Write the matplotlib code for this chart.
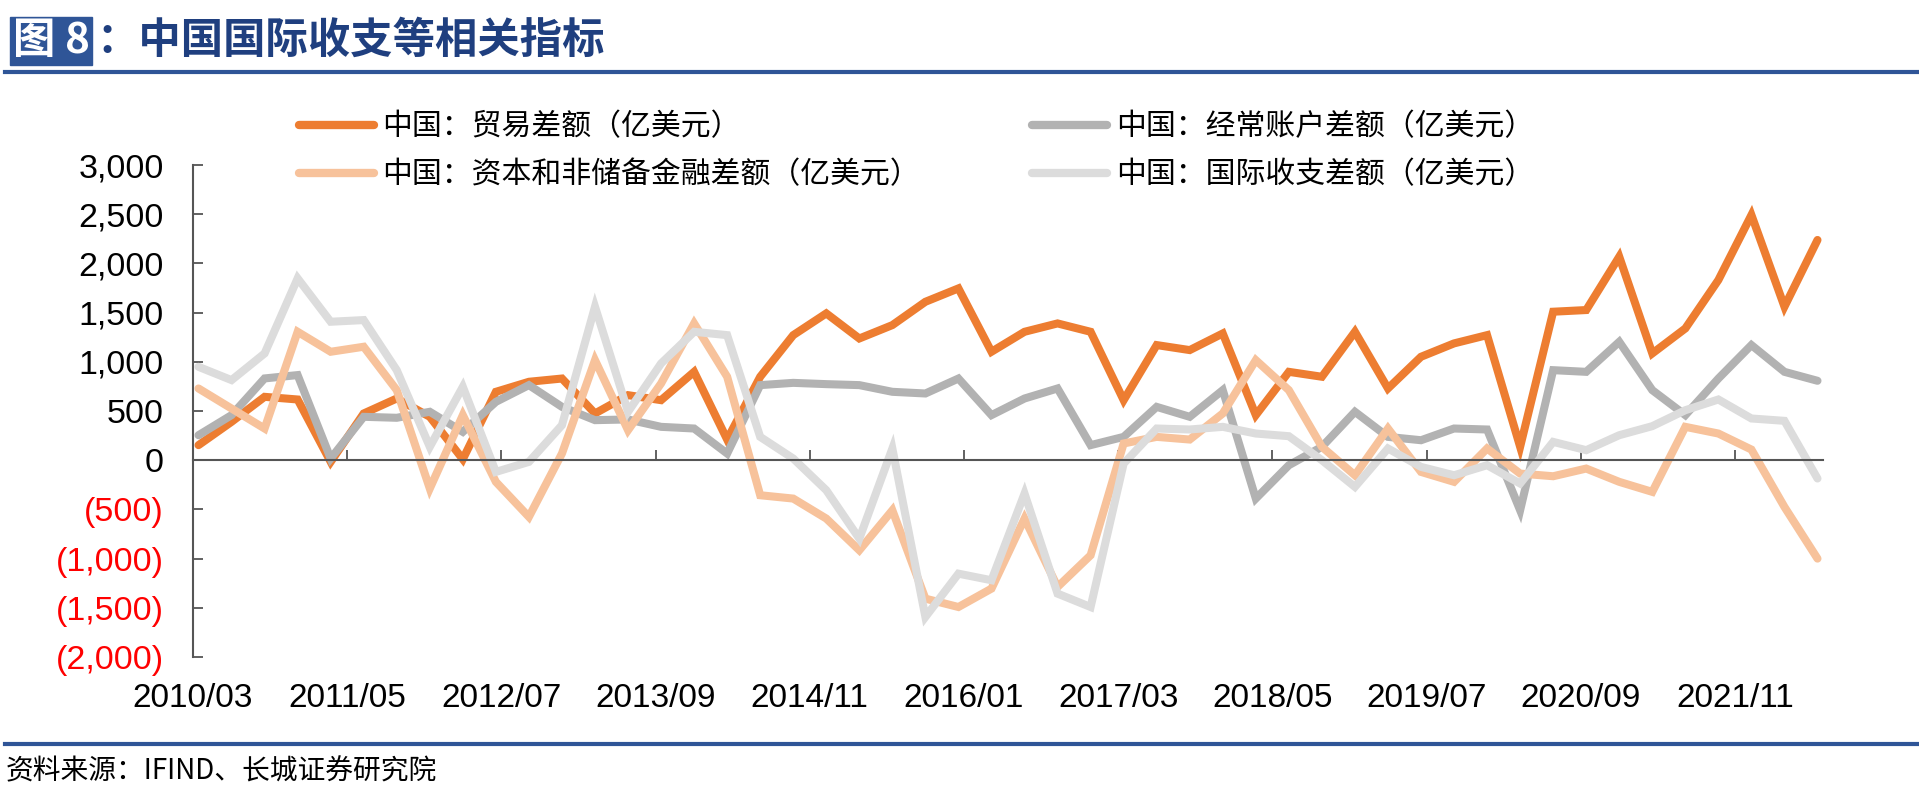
import matplotlib
matplotlib.use("Agg")
import matplotlib.pyplot as plt
from matplotlib.patches import Rectangle
from matplotlib.lines import Line2D

# quarterly data 2010Q1 - 2022Q2 (亿美元)
quarters = [f"{2010 + i // 4}Q{i % 4 + 1}" for i in range(50)]
trade = [153, 390, 644, 617, -17, 475, 627, 441, 10, 695,
         797, 830, 475, 661, 610, 898, 210, 848, 1271, 1492,
         1237, 1373, 1610, 1746, 1102, 1305, 1390, 1305, 610, 1170,
         1119, 1288, 458, 898, 848, 1305, 729, 1051, 1187, 1271,
         136, 1509, 1526, 2068, 1085, 1339, 1831, 2492, 1560, 2238]
current = [254, 458, 831, 865, 17, 441, 431, 492, 288, 593,
           763, 542, 407, 414, 339, 322, 68, 763, 786, 773,
           763, 695, 678, 830, 458, 627, 729, 153, 237, 542,
           441, 712, -390, -51, 136, 492, 237, 203, 322, 312,
           -509, 915, 898, 1203, 712, 458, 830, 1170, 898, 807]
capital = [729, 525, 322, 1305, 1102, 1153, 712, -288, 458, -220,
           -576, 68, 1017, 305, 780, 1390, 848, -356, -390, -593,
           -915, -509, -1407, -1492, -1305, -593, -1288, -966, 170, 237,
           210, 475, 1017, 712, 136, -153, 322, -119, -220, 119,
           -136, -163, -85, -220, -322, 339, 271, 108, -475, -1000]
bop = [949, 814, 1085, 1848, 1407, 1424, 915, 136, 746, -119,
       -17, 356, 1560, 492, 983, 1305, 1271, 237, 17, -305,
       -797, 119, -1593, -1153, -1220, -339, -1356, -1492, -34, 322,
       312, 339, 271, 244, 0, -271, 119, -68, -153, -51,
       -237, 186, 102, 254, 346, 508, 617, 424, 400, -186]

series_names = ["中国：贸易差额（亿美元）", "中国：经常账户差额（亿美元）",
                "中国：资本和非储备金融差额（亿美元）", "中国：国际收支差额（亿美元）"]
colors = ["#ED7D31", "#B2B2B2", "#F7C29B", "#DCDCDC"]

tick_labels = ["2010/03", "2011/05", "2012/07", "2013/09", "2014/11", "2016/01",
               "2017/03", "2018/05", "2019/07", "2020/09", "2021/11"]
y_ticks = [3000, 2500, 2000, 1500, 1000, 500, 0, -500, -1000, -1500, -2000]

CJK = ["Noto Sans CJK SC", "DejaVu Sans"]
LAT = ["Liberation Sans", "DejaVu Sans"]

# months since 2010/03 (Excel date axis, quarterly points)
months = [3 * i for i in range(len(quarters))]
tick_pos = [-0.5 + 14 * k for k in range(len(tick_labels))]

fig = plt.figure(figsize=(19.19, 7.85), dpi=100)
ax = fig.add_axes([193 / 1919, 1 - 657 / 785, (1823 - 193) / 1919, (657 - 165) / 785])

handles = []
for vals, name, c in zip([trade, current, capital, bop], series_names, colors):
    h, = ax.plot(months, vals, color=c, lw=5.8, solid_joinstyle="miter",
                 solid_capstyle="round", label=name)
    handles.append(h)

ax.set_xlim(-0.5, 147.5)
ax.set_ylim(-2000, 3000)

for s in ["top", "right"]:
    ax.spines[s].set_visible(False)
ax.spines["bottom"].set_position(("data", 0))
for s in ["left", "bottom"]:
    ax.spines[s].set_color("#555555")
    ax.spines[s].set_linewidth(1.5)

ax.set_xticks(tick_pos)
ax.tick_params(axis="x", direction="in", length=7, width=1.3, color="#555555",
               labelbottom=False)

ax.set_yticks(y_ticks)
ylabels = [f"{v:,}" if v >= 0 else f"({-v:,})" for v in y_ticks]
ax.set_yticklabels(ylabels)
ax.tick_params(axis="y", direction="in", length=7, width=1.3, color="#555555",
               pad=21, labelsize=24.5)
for lab, v in zip(ax.get_yticklabels(), y_ticks):
    lab.set_family(LAT)
    lab.set_color("red" if v < 0 else "black")

sec = ax.secondary_xaxis("bottom")
sec.set_xticks(tick_pos)
sec.set_xticklabels(tick_labels)
sec.spines["bottom"].set_visible(False)
sec.tick_params(length=0, pad=19, labelsize=24)
for lab in sec.get_xticklabels():
    lab.set_family(LAT)

order = [0, 2, 1, 3]
leg = fig.legend([handles[i] for i in order], [series_names[i] for i in order],
                 loc="upper left", bbox_to_anchor=(299 / 1919, 1 - 111 / 785),
                 ncol=2, frameon=False, borderpad=0, borderaxespad=0,
                 handlelength=2.5, handletextpad=0.3, columnspacing=3.75,
                 labelspacing=0.58, prop={"family": CJK, "size": 21.5})
for line in leg.get_lines():
    line.set_linewidth(6)

# title bar
fig.patches.append(Rectangle((10 / 1919, 1 - 65 / 785), 82 / 1919, 48 / 785,
                             transform=fig.transFigure, color="#2F5597"))
fig.text(51 / 1919, 1 - 41 / 785, "图 8", color="white", fontsize=30.5,
         fontweight="bold", family=CJK, ha="center", va="center")
fig.text(96 / 1919, 1 - 41 / 785, "：中国国际收支等相关指标", color="#1F3F7F",
         fontsize=30.5, fontweight="bold", family=CJK, ha="left", va="center")
fig.lines.append(Line2D([5 / 1919, 1], [1 - 72 / 785, 1 - 72 / 785],
                        transform=fig.transFigure, color="#2F5597", lw=3))

# footer
fig.lines.append(Line2D([5 / 1919, 1], [1 - 744 / 785, 1 - 744 / 785],
                        transform=fig.transFigure, color="#2F5597", lw=3))
fig.text(6 / 1919, 1 - 771 / 785, "资料来源：IFIND、长城证券研究院", fontsize=20,
         family=CJK, style="italic", ha="left", va="center")

fig.savefig("out.png", dpi=100)
